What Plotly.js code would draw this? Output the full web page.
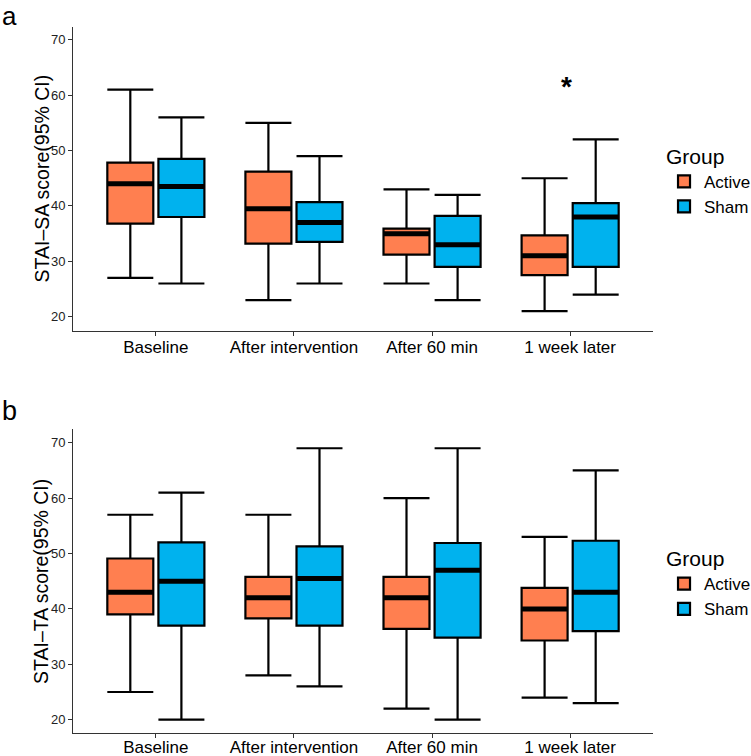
<!DOCTYPE html>
<html>
<head>
<meta charset="utf-8">
<script src="https://cdn.plot.ly/plotly-3.0.1.min.js"></script>
<style>
  html, body { margin: 0; padding: 0; background: #fff; }
  #chart { width: 751px; height: 756px; }
</style>
</head>
<body>
<div id="chart"></div>
<script>
// Time points shared by both panels
const timepoints = ['Baseline', 'After intervention', 'After 60 min', '1 week later'];

// Panel a: STAI-SA (state anxiety)
const saActiveLow  = [27, 23, 26, 21];
const saActiveQ1   = [36.8, 33.2, 31.2, 27.5];
const saActiveMed  = [44, 39.5, 35, 31];
const saActiveQ3   = [47.8, 46.2, 35.9, 34.7];
const saActiveHigh = [61, 55, 43, 45];

const saShamLow  = [26, 26, 23, 24];
const saShamQ1   = [38, 33.5, 29, 29];
const saShamMed  = [43.5, 37, 33, 38];
const saShamQ3   = [48.5, 40.7, 38.2, 40.5];
const saShamHigh = [56, 49, 42, 52];

// Panel b: STAI-TA (trait anxiety)
const taActiveLow  = [25, 28, 22, 24];
const taActiveQ1   = [39, 38.3, 36.4, 34.3];
const taActiveMed  = [43, 42, 42, 40];
const taActiveQ3   = [49.1, 45.8, 45.8, 43.8];
const taActiveHigh = [57, 57, 60, 53];

const taShamLow  = [20, 26, 20, 23];
const taShamQ1   = [37, 37, 34.8, 36];
const taShamMed  = [45, 45.5, 47, 43];
const taShamQ3   = [52, 51.3, 51.9, 52.3];
const taShamHigh = [61, 69, 69, 65];

// significance marker (panel a)
const sigLabel = '*';
const sigTime = '1 week later';
const sigY = 61.6;

const COLORS = { Active: '#FF7F50', Sham: '#00B2EE' };
const FONT = 'Liberation Sans, Arial, Helvetica, sans-serif';

// Box with outline + whiskers, plus a thick median bar drawn on top.
function groupTraces(name, low, q1, med, q3, high, xa, ya, legendId) {
  const box = {
    type: 'box', name, x: timepoints,
    lowerfence: low, q1, median: med, q3, upperfence: high,
    xaxis: xa, yaxis: ya, offsetgroup: name, legend: legendId,
    fillcolor: COLORS[name],
    line: { color: '#000', width: 2.2 },
    whiskerwidth: 1,
    hoverinfo: 'skip',
  };
  const medianBar = {
    type: 'box', name, x: timepoints,
    lowerfence: med, q1: med, median: med, q3: med, upperfence: med,
    xaxis: xa, yaxis: ya, offsetgroup: name, showlegend: false,
    fillcolor: 'rgba(0,0,0,0)',
    line: { color: '#000', width: 5 },
    whiskerwidth: 0,
    hoverinfo: 'skip',
  };
  return [box, medianBar];
}

const traces = [
  ...groupTraces('Active', saActiveLow, saActiveQ1, saActiveMed, saActiveQ3, saActiveHigh, 'x', 'y', 'legend'),
  ...groupTraces('Sham', saShamLow, saShamQ1, saShamMed, saShamQ3, saShamHigh, 'x', 'y', 'legend'),
  ...groupTraces('Active', taActiveLow, taActiveQ1, taActiveMed, taActiveQ3, taActiveHigh, 'x2', 'y2', 'legend2'),
  ...groupTraces('Sham', taShamLow, taShamQ1, taShamMed, taShamQ3, taShamHigh, 'x2', 'y2', 'legend2'),
];

const xAxis = (anchor, standoff) => ({
  type: 'category', anchor, range: [-0.6, 3.6],
  showline: true, linecolor: '#333', linewidth: 1,
  ticks: 'outside', ticklen: 4, tickcolor: '#333', tickwidth: 1,
  ticklabelstandoff: standoff,
  showgrid: false, zeroline: false, fixedrange: true,
  tickfont: { family: FONT, size: 17, color: '#000' },
});

const yAxis = (anchor, domain, range) => ({
  anchor, domain, range,
  tickvals: [20, 30, 40, 50, 60, 70],
  showline: true, linecolor: '#333', linewidth: 1,
  ticks: 'outside', ticklen: 4, tickcolor: '#333', tickwidth: 1,
  showgrid: false, zeroline: false,
  tickfont: { family: FONT, size: 13, color: '#222' },
});

const legendBase = {
  x: 1.019, xanchor: 'left', yanchor: 'top',
  bgcolor: 'rgba(0,0,0,0)',
  font: { family: FONT, size: 17, color: '#000' },
  title: { text: 'Group', font: { family: FONT, size: 21, color: '#000' } },
  tracegroupgap: 0,
};

const textNote = (text, x, y, size, extra = {}) => Object.assign({
  text, xref: 'paper', yref: 'paper', x, y,
  xanchor: 'center', yanchor: 'middle', showarrow: false,
  font: { family: FONT, size, color: '#000' },
}, extra);

const layout = {
  width: 751, height: 756,
  margin: { l: 73, r: 98, t: 27, b: 23, autoexpand: false },
  paper_bgcolor: '#fff', plot_bgcolor: '#fff',
  font: { family: FONT },
  boxmode: 'group', boxgap: 0.26, boxgroupgap: 0.1,
  xaxis: xAxis('y', -3),
  yaxis: yAxis('x', [0.57, 1], [17.5, 72.3]),
  xaxis2: xAxis('y2', -5),
  yaxis2: yAxis('x2', [0, 0.43], [17.6, 72.4]),
  legend: { ...legendBase, y: 0.845 },
  legend2: { ...legendBase, y: 0.275 },
  annotations: [
    textNote('a', -0.126, 1.016, 26, { xanchor: 'left' }),
    textNote('b', -0.126, 0.456, 27, { xanchor: 'left' }),
    textNote('STAI–SA score(95% CI)', -0.054, 0.785, 19.5, { textangle: -90 }),
    textNote('STAI–TA score(95% CI)', -0.054, 0.215, 19.5, { textangle: -90 }),
    { text: sigLabel, xref: 'x', yref: 'y', x: sigTime, y: sigY, xshift: -4,
      yanchor: 'middle', showarrow: false,
      font: { family: FONT, size: 28, color: '#000', weight: 'bold' } },
  ],
};

Plotly.newPlot('chart', traces, layout, { displayModeBar: false, staticPlot: true });
</script>
</body>
</html>
